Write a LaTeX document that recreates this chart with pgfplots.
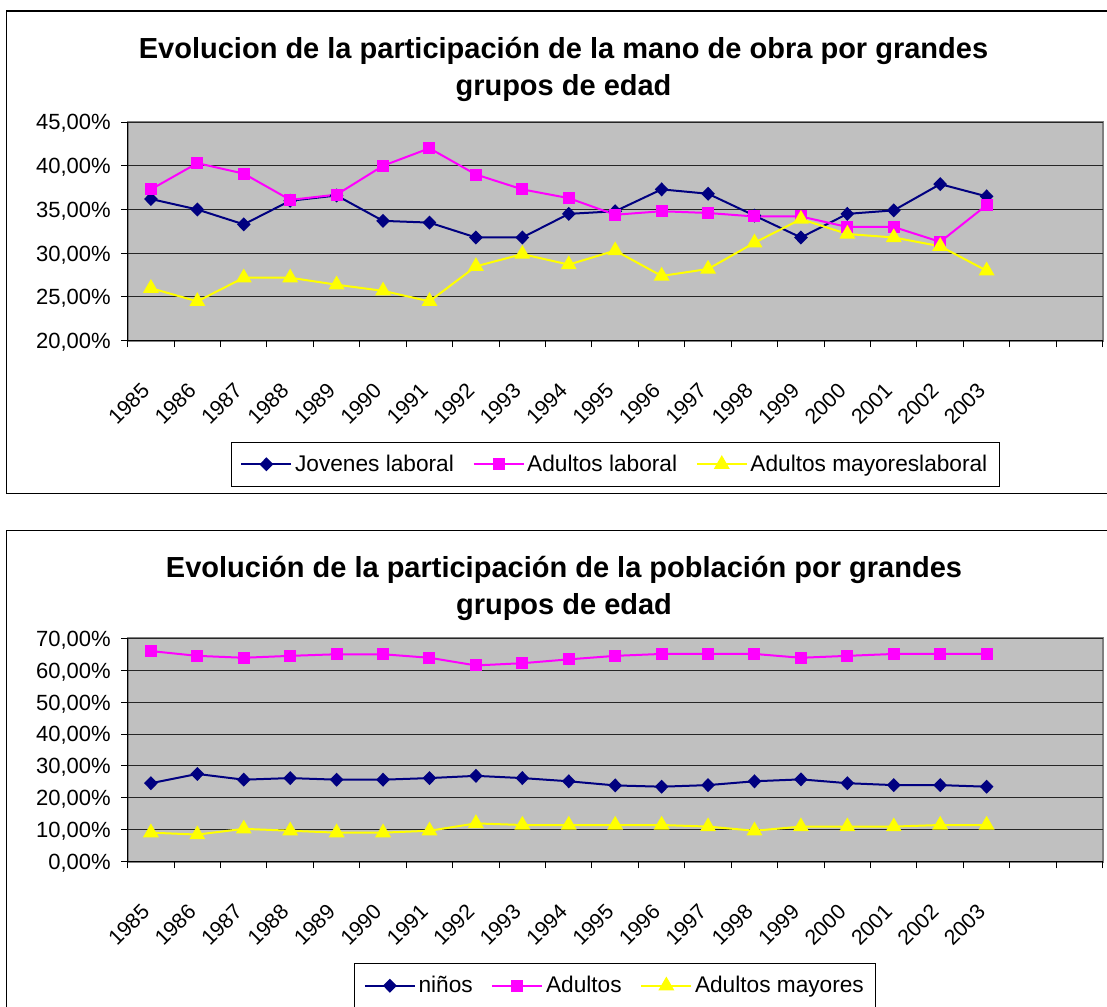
\documentclass[border=0pt]{standalone}
\usepackage{fontspec}
\setmainfont{Liberation Sans}
\usepackage{pgfplots}
\pgfplotsset{compat=1.18}
\definecolor{navyc}{RGB}{0,0,128}
\definecolor{magc}{RGB}{255,0,255}
\definecolor{yelc}{RGB}{255,255,0}
\definecolor{plotbg}{RGB}{192,192,192}
\definecolor{bordergray}{RGB}{128,128,128}

\pgfplotstableread{
x jov adu may
0 36.2 37.3 26.0
1 35.0 40.3 24.5
2 33.3 39.1 27.2
3 36.0 36.1 27.2
4 36.6 36.7 26.4
5 33.7 40.0 25.7
6 33.5 42.0 24.5
7 31.8 39.0 28.5
8 31.8 37.3 29.9
9 34.5 36.3 28.7
10 34.8 34.4 30.3
11 37.3 34.8 27.4
12 36.8 34.6 28.2
13 34.3 34.2 31.2
14 31.8 34.2 33.9
15 34.5 33.0 32.2
16 34.9 33.0 31.8
17 37.9 31.3 30.8
18 36.5 35.5 28.0
}\laboral

\pgfplotstableread{
x nin adu may
0 24.6 66.0 9.1
1 27.5 64.5 8.5
2 25.7 63.9 10.3
3 26.2 64.5 9.7
4 25.7 65.0 9.1
5 25.7 65.0 9.1
6 26.2 63.9 9.7
7 26.9 61.5 12.0
8 26.2 62.2 11.5
9 25.2 63.4 11.5
10 23.9 64.5 11.5
11 23.5 65.1 11.5
12 24.0 65.1 11.0
13 25.2 65.1 9.7
14 25.8 63.9 11.0
15 24.6 64.5 11.0
16 24.0 65.1 11.0
17 24.0 65.1 11.5
18 23.5 65.1 11.5
}\poblacion

\pgfplotsset{
  excel/.style={
    scale only axis,
    width=731.25pt,
    xmin=-0.5, xmax=20.5,
    axis x line*=bottom, axis y line*=left,
    axis line style={black, line width=1pt},
    axis background/.style={fill=plotbg, draw=bordergray, line width=1.5pt},
    tick align=outside,
    major tick length=5pt,
    tick style={black, line width=0.75pt},
    xtick={-0.5,0.5,1.5,2.5,3.5,4.5,5.5,6.5,7.5,8.5,9.5,10.5,11.5,12.5,13.5,14.5,15.5,16.5,17.5,18.5,19.5,20.5},
    xticklabels={},
    extra x ticks={0,1,2,3,4,5,6,7,8,9,10,11,12,13,14,15,16,17,18},
    extra x tick labels={1985,1986,1987,1988,1989,1990,1991,1992,1993,1994,1995,1996,1997,1998,1999,2000,2001,2002,2003},
    extra x tick style={major tick length=0pt, grid=none,
      xticklabel style={yshift=-38.5pt, rotate=45, anchor=base east, inner sep=0pt}},
    ymajorgrids,
    grid style={black!85, line width=0.75pt},
    xticklabel style={font=\fontsize{16}{19}\selectfont},
    yticklabel style={font=\fontsize{16.5}{19}\selectfont, anchor=base east, inner sep=0pt, yshift=-5.9pt, xshift=-7.5pt},
    legend columns=3,
    legend cell align=left,
    legend style={anchor=north, draw=black, line width=0.75pt, fill=white,
      font=\fontsize{17}{20}\selectfont, inner xsep=7pt, inner ysep=7.75pt,
      /tikz/every even column/.append style={column sep=12pt}},
    legend image code/.code={\draw[mark repeat=2,mark phase=2,##1] plot coordinates {(0pt,0pt) (18.75pt,0pt) (37.5pt,0pt)};},
  },
  sjov/.style={color=navyc, line width=1.5pt, mark=diamond*, mark size=4.2pt, mark options={solid, xscale=1.3, fill=navyc, draw=navyc}},
  sadu/.style={color=magc, line width=1.5pt, mark=square*, mark size=3.75pt, mark options={solid, fill=magc, draw=magc}},
  smay/.style={color=yelc, line width=1.5pt, mark=triangle*, mark size=5.4pt, mark options={solid, fill=yelc, draw=yelc}},
}

\begin{document}
\begin{tikzpicture}[x=0.75pt,y=0.75pt]
\path[use as bounding box] (0,0) rectangle (1107,1007);
% frames
\draw[black, line width=1.1pt] (1107,996) -- (6.7,996) -- (6.7,513.7) -- (1107,513.7);
\draw[black, line width=1.1pt] (1107,476.3) -- (6.7,476.3) -- (6.7,0);
% titles
\node[font=\fontsize{21.75}{27.75}\selectfont\bfseries, align=center] at (563.5,937.5)
  {Evolucion de la participación de la mano de obra por grandes\\grupos de edad};
\node[font=\fontsize{21.75}{27.75}\selectfont\bfseries, align=center] at (564,418.5)
  {Evolución de la participación de la población por grandes\\grupos de edad};

\begin{axis}[excel,
  at={(95.775pt,499.725pt)}, anchor=south west,
  height=164.0pt,
  ymin=20, ymax=45,
  ytick={20,25,30,35,40,45},
  yticklabels={{20,00\%},{25,00\%},{30,00\%},{35,00\%},{40,00\%},{45,00\%}},
  legend style={at={(0.5,-0.4614)}},
]
\addplot[sjov] table[x=x,y=jov] {\laboral};
\addlegendentry{Jovenes laboral}
\addplot[sadu] table[x=x,y=adu] {\laboral};
\addlegendentry{Adultos laboral}
\addplot[smay] table[x=x,y=may] {\laboral};
\addlegendentry{Adultos mayoreslaboral}
\end{axis}

\begin{axis}[excel,
  at={(95.775pt,108.975pt)}, anchor=south west,
  height=167.55pt,
  ymin=0, ymax=70,
  ytick={0,10,20,30,40,50,60,70},
  yticklabels={{0,00\%},{10,00\%},{20,00\%},{30,00\%},{40,00\%},{50,00\%},{60,00\%},{70,00\%}},
  legend style={at={(0.5,-0.4535)}},
]
\addplot[sjov] table[x=x,y=nin] {\poblacion};
\addlegendentry{niños}
\addplot[sadu] table[x=x,y=adu] {\poblacion};
\addlegendentry{Adultos}
\addplot[smay] table[x=x,y=may] {\poblacion};
\addlegendentry{Adultos mayores}
\end{axis}
\end{tikzpicture}
\end{document}
